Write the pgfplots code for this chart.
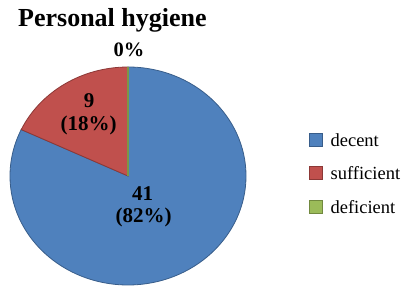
\documentclass[border=0pt]{standalone}
\usepackage{fontspec}
\setmainfont{Liberation Serif}
\usepackage{pgfplots}
\usepackage{pgfplotstable}
\pgfplotsset{compat=1.18}
\definecolor{cblue}{HTML}{4F81BD}
\definecolor{cbluee}{HTML}{385D8A}
\definecolor{cred}{HTML}{C0504D}
\definecolor{crede}{HTML}{8C3836}
\definecolor{cgreen}{HTML}{9BBB59}
\definecolor{cgreene}{HTML}{71893F}
\pgfplotstableread{
label value
decent 41
sufficient 9
deficient 0
}\piedata
\pgfplotstablegetelem{0}{value}\of\piedata \let\va\pgfplotsretval
\pgfplotstablegetelem{1}{value}\of\piedata \let\vb\pgfplotsretval
\pgfplotstablegetelem{2}{value}\of\piedata \let\vc\pgfplotsretval
\pgfmathsetmacro\total{\va+\vb+\vc}
\pgfmathsetmacro\aA{90}
\pgfmathsetmacro\aB{\aA-360*\va/\total}
\pgfmathsetmacro\aC{\aB-360*\vb/\total}
\pgfmathsetmacro\aD{\aC-360*\vc/\total}
\begin{document}
\begin{tikzpicture}
\begin{axis}[
  hide axis, scale only axis, width=407pt, height=286pt,
  xmin=0, xmax=407, ymin=0, ymax=286, clip=false,
  legend style={at={(axis cs:308.5,153)}, anchor=north west, draw=none, fill=none,
    inner sep=0pt, outer sep=0pt, font=\fontsize{18.5}{20}\selectfont,
    nodes={inner sep=0pt, anchor=base west, text height=13pt, text depth=4pt},
    row sep=16pt},
  legend cell align=left,
  legend image code/.code={\draw[#1, line width=0.8pt] (0pt,0pt) rectangle (13pt,13pt); \path (21.5pt,0pt);},
]
\addplot[draw=none, forget plot] coordinates {(0,0) (407,286)};
\fill[cblue, draw=cbluee, line width=0.8pt] (axis cs:128,110) -- ++(\aA:118pt and 109pt)
  arc[start angle=\aA, end angle=\aB, x radius=118pt, y radius=109pt] -- cycle;
\fill[cred, draw=crede, line width=0.8pt] (axis cs:128,110) -- ++(\aB:118pt and 109pt)
  arc[start angle=\aB, end angle=\aC, x radius=118pt, y radius=109pt] -- cycle;
\draw[cgreen!80!black, line width=1.5pt] (axis cs:128,110) -- ++(\aC:118pt and 109pt);
\addlegendimage{fill=cblue, draw=cbluee}
\addlegendentry{decent}
\addlegendimage{fill=cred, draw=crede}
\addlegendentry{sufficient}
\addlegendimage{fill=cgreen, draw=cgreene}
\addlegendentry{deficient}
\node[anchor=base west, inner sep=0pt, font=\fontsize{26}{30}\selectfont\bfseries] at (axis cs:18,259) {Personal hygiene};
\node[anchor=base, inner sep=0pt, font=\fontsize{20.5}{24}\selectfont\bfseries] at (axis cs:129,229) {0\%};
\node[anchor=base, inner sep=0pt, font=\fontsize{21}{24}\selectfont\bfseries] at (axis cs:89,178) {9};
\node[anchor=base, inner sep=0pt, font=\fontsize{21}{24}\selectfont\bfseries] at (axis cs:88.5,155) {(18\%)};
\node[anchor=base, inner sep=0pt, font=\fontsize{21}{24}\selectfont\bfseries] at (axis cs:142.5,85) {41};
\node[anchor=base, inner sep=0pt, font=\fontsize{21}{24}\selectfont\bfseries] at (axis cs:143.5,63) {(82\%)};
\end{axis}
\end{tikzpicture}
\end{document}
